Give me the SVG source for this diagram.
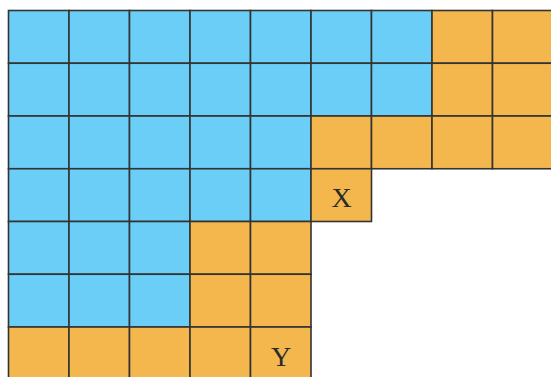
<svg xmlns="http://www.w3.org/2000/svg" width="551" height="377" viewBox="0 0 551 377">
<style>
.b{fill:#6BCEF6;stroke:#333;stroke-width:1.6}
.o{fill:#F4B74E;stroke:#333;stroke-width:1.6}
.t{font-family:"Liberation Serif","Times New Roman",serif;font-size:28px;fill:#2b2b2b;text-anchor:middle}
</style>
<rect width="551" height="377" fill="#fff"/>
<g id="grid">
<!-- row 0 -->
<rect class="b" x="8.5" y="10.5" width="60.5" height="52.75"/>
<rect class="b" x="69" y="10.5" width="60.5" height="52.75"/>
<rect class="b" x="129.5" y="10.5" width="60.5" height="52.75"/>
<rect class="b" x="190" y="10.5" width="60.5" height="52.75"/>
<rect class="b" x="250.5" y="10.5" width="60.5" height="52.75"/>
<rect class="b" x="311" y="10.5" width="60.5" height="52.75"/>
<rect class="b" x="371.5" y="10.5" width="60.5" height="52.75"/>
<rect class="o" x="432" y="10.5" width="60.5" height="52.75"/>
<rect class="o" x="492.5" y="10.5" width="60.5" height="52.75"/>
<!-- row 1 -->
<rect class="b" x="8.5" y="63.25" width="60.5" height="52.75"/>
<rect class="b" x="69" y="63.25" width="60.5" height="52.75"/>
<rect class="b" x="129.5" y="63.25" width="60.5" height="52.75"/>
<rect class="b" x="190" y="63.25" width="60.5" height="52.75"/>
<rect class="b" x="250.5" y="63.25" width="60.5" height="52.75"/>
<rect class="b" x="311" y="63.25" width="60.5" height="52.75"/>
<rect class="b" x="371.5" y="63.25" width="60.5" height="52.75"/>
<rect class="o" x="432" y="63.25" width="60.5" height="52.75"/>
<rect class="o" x="492.5" y="63.25" width="60.5" height="52.75"/>
<!-- row 2 -->
<rect class="b" x="8.5" y="116" width="60.5" height="52.75"/>
<rect class="b" x="69" y="116" width="60.5" height="52.75"/>
<rect class="b" x="129.5" y="116" width="60.5" height="52.75"/>
<rect class="b" x="190" y="116" width="60.5" height="52.75"/>
<rect class="b" x="250.5" y="116" width="60.5" height="52.75"/>
<rect class="o" x="311" y="116" width="60.5" height="52.75"/>
<rect class="o" x="371.5" y="116" width="60.5" height="52.75"/>
<rect class="o" x="432" y="116" width="60.5" height="52.75"/>
<rect class="o" x="492.5" y="116" width="60.5" height="52.75"/>
<!-- row 3 -->
<rect class="b" x="8.5" y="168.75" width="60.5" height="52.75"/>
<rect class="b" x="69" y="168.75" width="60.5" height="52.75"/>
<rect class="b" x="129.5" y="168.75" width="60.5" height="52.75"/>
<rect class="b" x="190" y="168.75" width="60.5" height="52.75"/>
<rect class="b" x="250.5" y="168.75" width="60.5" height="52.75"/>
<!-- row 4 -->
<rect class="b" x="8.5" y="221.5" width="60.5" height="52.75"/>
<rect class="b" x="69" y="221.5" width="60.5" height="52.75"/>
<rect class="b" x="129.5" y="221.5" width="60.5" height="52.75"/>
<rect class="o" x="190" y="221.5" width="60.5" height="52.75"/>
<rect class="o" x="250.5" y="221.5" width="60.5" height="52.75"/>
<!-- row 5 -->
<rect class="b" x="8.5" y="274.25" width="60.5" height="52.75"/>
<rect class="b" x="69" y="274.25" width="60.5" height="52.75"/>
<rect class="b" x="129.5" y="274.25" width="60.5" height="52.75"/>
<rect class="o" x="190" y="274.25" width="60.5" height="52.75"/>
<rect class="o" x="250.5" y="274.25" width="60.5" height="52.75"/>
<!-- row 6 -->
<rect class="o" x="8.5" y="327" width="60.5" height="52.75"/>
<rect class="o" x="69" y="327" width="60.5" height="52.75"/>
<rect class="o" x="129.5" y="327" width="60.5" height="52.75"/>
<rect class="o" x="190" y="327" width="60.5" height="52.75"/>
</g>
<g id="cellX">
<rect class="o" x="311" y="168.75" width="60.5" height="52.75"/>
<text class="t" x="341.5" y="207">X</text>
</g>
<g id="cellY">
<rect class="o" x="250.5" y="327" width="60.5" height="52.75"/>
<text class="t" x="281" y="366">Y</text>
</g>
</svg>
